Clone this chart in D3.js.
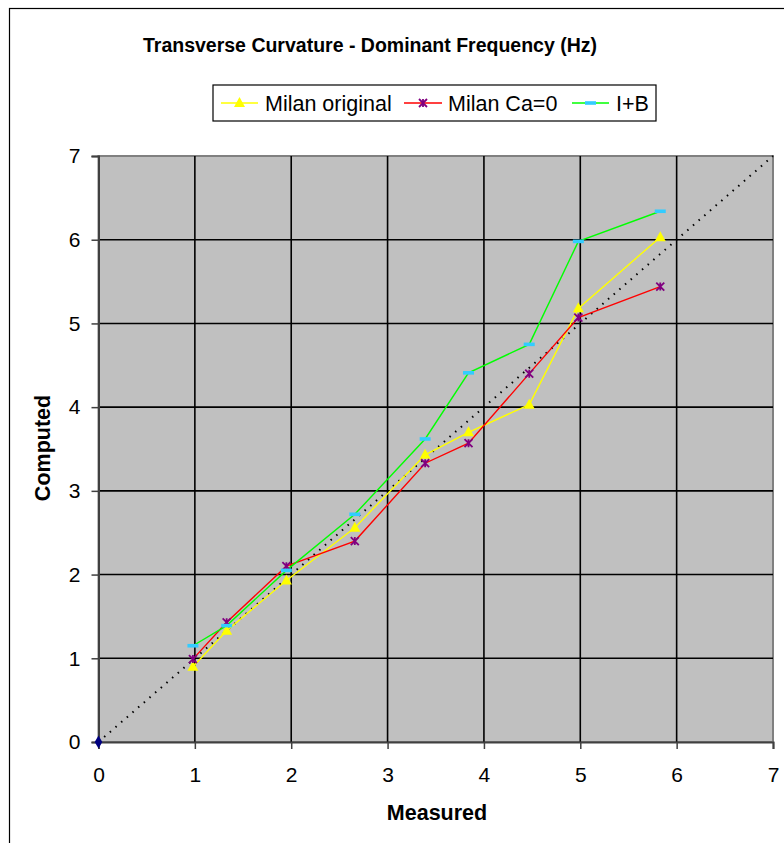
<!DOCTYPE html>
<html><head><meta charset="utf-8">
<script src="https://cdn.jsdelivr.net/npm/d3@7"></script>
<style>
html,body{margin:0;padding:0;background:#fff;}
svg{display:block;font-family:"Liberation Sans",Arial,sans-serif;}
</style></head>
<body>
<svg id="c" width="784" height="843"></svg>
<script>
const measured   = [0.98, 1.33, 1.95, 2.66, 3.39, 3.84, 4.47, 4.98, 5.83];
const milanOrig  = [0.90, 1.33, 1.93, 2.56, 3.43, 3.70, 4.03, 5.18, 6.03];
const milanCa0   = [0.99, 1.43, 2.10, 2.40, 3.33, 3.57, 4.40, 5.07, 5.44];
const iPlusB     = [1.15, 1.39, 2.05, 2.72, 3.62, 4.41, 4.75, 5.98, 6.34];
const diagonal   = [[0,0],[7,7]];
const ticks      = [0,1,2,3,4,5,6,7];
const seriesNames = ["Milan original","Milan Ca=0","I+B"];

const svg = d3.select("#c");
const L=98.5, R=773, T=156, B=742;
const x = d3.scaleLinear().domain([0,7]).range([L,R]);
const y = d3.scaleLinear().domain([0,7]).range([B,T]);

// chart frame
svg.append("rect").attr("x",9.5).attr("y",8.5).attr("width",790).attr("height",850)
  .attr("fill","#fff").attr("stroke","#000").attr("stroke-width",1.2);

// plot area
svg.append("rect").attr("x",L).attr("y",T).attr("width",R-L).attr("height",B-T)
  .attr("fill","#C0C0C0").attr("stroke","#808080").attr("stroke-width",2);

// grid
svg.append("g").selectAll("line").data(ticks.slice(1,7)).join("line")
  .attr("x1",d=>x(d)).attr("x2",d=>x(d)).attr("y1",T).attr("y2",B)
  .attr("stroke","#000").attr("stroke-width",1.6);
svg.append("g").selectAll("line").data(ticks.slice(1,7)).join("line")
  .attr("y1",d=>y(d)).attr("y2",d=>y(d)).attr("x1",L).attr("x2",R)
  .attr("stroke","#000").attr("stroke-width",1.6);

// axes
const xa = svg.append("g").attr("transform",`translate(0,${B})`)
  .call(d3.axisBottom(x).tickValues(ticks).tickFormat(d3.format("d")).tickSize(7).tickPadding(18));
const ya = svg.append("g").attr("transform",`translate(${L},0)`)
  .call(d3.axisLeft(y).tickValues(ticks).tickFormat(d3.format("d")).tickSize(7).tickPadding(11));
[xa,ya].forEach(a=>{
  a.select(".domain").attr("stroke","#404040").attr("stroke-width",2);
  a.selectAll(".tick line").attr("stroke","#404040").attr("stroke-width",1.5);
  a.selectAll("text").attr("font-size",21).attr("fill","#000").attr("font-family","Liberation Sans, Arial, sans-serif");
});

// diagonal dotted line
const line = d3.line().x(d=>x(d[0])).y(d=>y(d[1]));
svg.append("path").attr("d",line(diagonal)).attr("fill","none")
  .attr("stroke","#000").attr("stroke-width",2).attr("stroke-dasharray","1.5,6");
svg.append("path").attr("d",d3.symbol(d3.symbolDiamond,50)())
  .attr("transform",`translate(${x(0)},${y(0)})`).attr("fill","#000080");

const series = [
  {name:seriesNames[0], vals:milanOrig, color:"#FFFF00", marker:"tri"},
  {name:seriesNames[1], vals:milanCa0,  color:"#FF0000", marker:"star"},
  {name:seriesNames[2], vals:iPlusB,    color:"#00FF00", marker:"dash"}
];

function drawMarker(g, type, cx, cy){
  if(type==="tri"){
    g.append("path").attr("d",`M${cx},${cy-6}L${cx+5.5},${cy+4}L${cx-5.5},${cy+4}Z`).attr("fill","#FFFF00");
  } else if(type==="star"){
    const s=4;
    g.append("path").attr("d",`M${cx-s},${cy-s}L${cx+s},${cy+s}M${cx-s},${cy+s}L${cx+s},${cy-s}M${cx},${cy-s}L${cx},${cy+s}`)
      .attr("stroke","#800080").attr("stroke-width",1.8).attr("fill","none");
  } else {
    g.append("rect").attr("x",cx-5.5).attr("y",cy-1.8).attr("width",11).attr("height",3.6).attr("fill","#33CCFF");
  }
}

const pl = d3.line().x(d=>x(d[0])).y(d=>y(d[1]));
series.forEach(s=>{
  const pts = measured.map((m,i)=>[m,s.vals[i]]);
  svg.append("path").attr("d",pl(pts)).attr("fill","none").attr("stroke",s.color).attr("stroke-width",1.4);
});
series.forEach(s=>{
  const g = svg.append("g");
  measured.forEach((m,i)=>drawMarker(g,s.marker,x(m),y(s.vals[i])));
});

// title
svg.append("text").attr("x",370).attr("y",52).attr("text-anchor","middle")
  .attr("font-size",19.5).attr("font-weight","bold").text("Transverse Curvature - Dominant Frequency (Hz)");

// axis titles
svg.append("text").attr("x",437).attr("y",820).attr("text-anchor","middle")
  .attr("font-size",21.5).attr("font-weight","bold").text("Measured");
svg.append("text").attr("transform","translate(50,448) rotate(-90)").attr("text-anchor","middle")
  .attr("font-size",21.5).attr("font-weight","bold").text("Computed");

// legend
const lg = svg.append("g");
lg.append("rect").attr("x",213).attr("y",85).attr("width",443).attr("height",36)
  .attr("fill","#fff").attr("stroke","#000").attr("stroke-width",1.2);
const legX = [[221,258,265],[404,442,448],[572,609,616]];
series.forEach((s,i)=>{
  const [a,b,t]=legX[i];
  lg.append("line").attr("x1",a).attr("x2",b).attr("y1",103).attr("y2",103).attr("stroke",s.color).attr("stroke-width",1.5);
  drawMarker(lg,s.marker,(a+b)/2,103);
  lg.append("text").attr("x",t).attr("y",110.5).attr("font-size",21.5).text(s.name);
});
</script>
</body></html>
